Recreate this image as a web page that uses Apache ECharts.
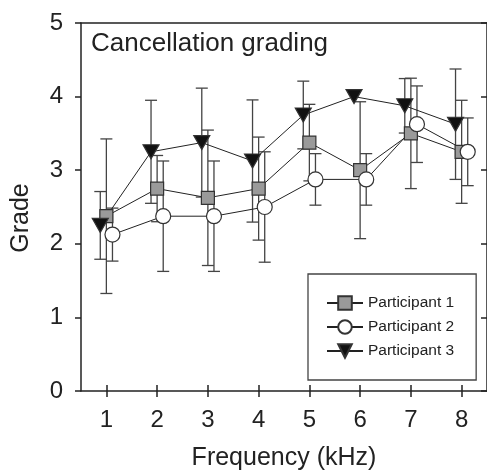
<!DOCTYPE html>
<html>
<head>
<meta charset="utf-8">
<script src="https://cdn.jsdelivr.net/npm/echarts@6.0.0/dist/echarts.min.js"></script>
<style>
  html, body { margin: 0; padding: 0; background: #fff; }
  #main { width: 487px; height: 476px; }
</style>
</head>
<body>
<div id="main"></div>
<script>
// frequency (kHz) and tick labels
var freqs = [1, 2, 3, 4, 5, 6, 7, 8];
var gradeTicks = [0, 1, 2, 3, 4, 5];

// mean grade and error (+/-) per participant
var p1Mean = [2.375, 2.75, 2.625, 2.75, 3.375, 3.0, 3.5, 3.25];
var p1Err = [1.05, 0.45, 0.92, 0.7, 0.52, 0.93, 0.75, 0.7];
var p2Mean = [2.125, 2.375, 2.375, 2.5, 2.875, 2.875, 3.625, 3.25];
var p2Err = [0.36, 0.75, 0.75, 0.75, 0.35, 0.35, 0.52, 0.46];
var p3Mean = [2.25, 3.25, 3.375, 3.125, 3.75, 4.0, 3.875, 3.625];
var p3Err = [0.46, 0.7, 0.74, 0.83, 0.46, 0, 0.37, 0.75];

var names = ['Participant 1', 'Participant 2', 'Participant 3'];

// small horizontal shift so markers don't sit on top of each other
var shift = [0, 0.12, -0.12];

var font = 'Liberation Sans, Arial, sans-serif';
var ink = '#222';

function pts(mean, err, dx) {
  return freqs.map(function (f, i) { return [f + dx, mean[i], err[i]]; });
}

function errBars(id, mean, err, dx) {
  return {
    name: id + ' err',
    type: 'custom',
    z: 1,
    silent: true,
    data: pts(mean, err, dx),
    encode: { x: 0, y: 1 },
    renderItem: function (params, api) {
      var x = api.value(0), y = api.value(1), e = api.value(2);
      if (!e) return;
      var top = api.coord([x, y + e]);
      var bot = api.coord([x, y - e]);
      var hw = 6;
      var st = { stroke: '#444', lineWidth: 1.3 };
      return {
        type: 'group',
        children: [
          { type: 'line', shape: { x1: top[0], y1: top[1], x2: bot[0], y2: bot[1] }, style: st },
          { type: 'line', shape: { x1: top[0] - hw, y1: top[1], x2: top[0] + hw, y2: top[1] }, style: st },
          { type: 'line', shape: { x1: bot[0] - hw, y1: bot[1], x2: bot[0] + hw, y2: bot[1] }, style: st }
        ]
      };
    }
  };
}

function lineSeries(name, mean, err, dx, symbol, size, fill, rot) {
  return {
    name: name,
    type: 'line',
    z: 3,
    data: pts(mean, err, dx),
    encode: { x: 0, y: 1 },
    symbol: symbol,
    symbolSize: size,
    symbolRotate: rot,
    showAllSymbol: true,
    color: fill,
    lineStyle: { color: ink, width: 1 },
    itemStyle: { color: fill, borderColor: '#333', borderWidth: 1.2, opacity: 1 },
    emphasis: { disabled: true }
  };
}

var myChart = echarts.init(document.getElementById('main'));

myChart.setOption({
  animation: false,
  textStyle: { fontFamily: font },
  grid: { left: 81, top: 23, width: 408, height: 370 },
  legend: {
    orient: 'vertical',
    left: 308,
    top: 274,
    data: names,
    itemWidth: 36,
    itemHeight: 17,
    itemGap: 8,
    padding: [21, 22, 21, 18],
    borderColor: '#444',
    borderWidth: 1.3,
    selectedMode: false,
    textStyle: { fontSize: 15.5, color: ink, fontFamily: font }
  },
  graphic: [
    {
      type: 'text', left: 91, top: 31,
      style: { text: 'Cancellation grading', fontSize: 26, fill: ink, fontFamily: font }
    },
    {
      type: 'text', x: 21, y: 218, rotation: Math.PI / 2,
      style: { text: 'Grade', fontSize: 25, fill: ink, fontFamily: font, align: 'center', verticalAlign: 'middle' }
    }
  ],
  xAxis: [
    {
      type: 'value', min: 0.5, max: 8.5, position: 'bottom',
      name: 'Frequency (kHz)', nameLocation: 'middle', nameGap: 55,
      nameTextStyle: { fontSize: 25, color: ink, fontFamily: font },
      axisLine: { lineStyle: { color: ink, width: 1.5 } },
      axisTick: { length: 6, customValues: freqs, lineStyle: { color: ink, width: 1.5 } },
      axisLabel: { customValues: freqs, fontSize: 24, color: ink, margin: 17 },
      splitLine: { show: false }
    },
    {
      type: 'value', min: 0.5, max: 8.5, position: 'bottom',
      axisLine: { show: false },
      axisTick: { inside: true, length: 6, customValues: freqs, lineStyle: { color: ink, width: 1.5 } },
      axisLabel: { show: false },
      splitLine: { show: false }
    },
    {
      type: 'value', min: 0.5, max: 8.5, position: 'top',
      axisLine: { lineStyle: { color: ink, width: 1.5 } },
      axisTick: { show: false },
      axisLabel: { show: false },
      splitLine: { show: false }
    }
  ],
  yAxis: [
    {
      type: 'value', min: 0, max: 5, interval: 1, position: 'left',
      axisLine: { show: true, lineStyle: { color: ink, width: 1.5 } },
      axisTick: { show: true, length: 6, lineStyle: { color: ink, width: 1.5 } },
      axisLabel: {
        fontSize: 24, color: ink, margin: 18,
        formatter: function (v) { return gradeTicks.indexOf(v) >= 0 ? String(v) : ''; }
      },
      splitLine: { show: false }
    },
    {
      type: 'value', min: 0, max: 5, interval: 1, position: 'right',
      axisLine: { show: true, lineStyle: { color: ink, width: 1.5 } },
      axisTick: { show: true, inside: true, length: 6, lineStyle: { color: ink, width: 1.5 } },
      axisLabel: { show: false },
      splitLine: { show: false }
    }
  ],
  series: [
    errBars('p1', p1Mean, p1Err, shift[0]),
    errBars('p2', p2Mean, p2Err, shift[1]),
    errBars('p3', p3Mean, p3Err, shift[2]),
    lineSeries(names[0], p1Mean, p1Err, shift[0], 'rect', 13, '#9a9a9a', 0),
    lineSeries(names[1], p2Mean, p2Err, shift[1], 'circle', 15, '#ffffff', 0),
    lineSeries(names[2], p3Mean, p3Err, shift[2], 'triangle', [16, 14], '#111111', 180)
  ]
});
</script>
</body>
</html>
